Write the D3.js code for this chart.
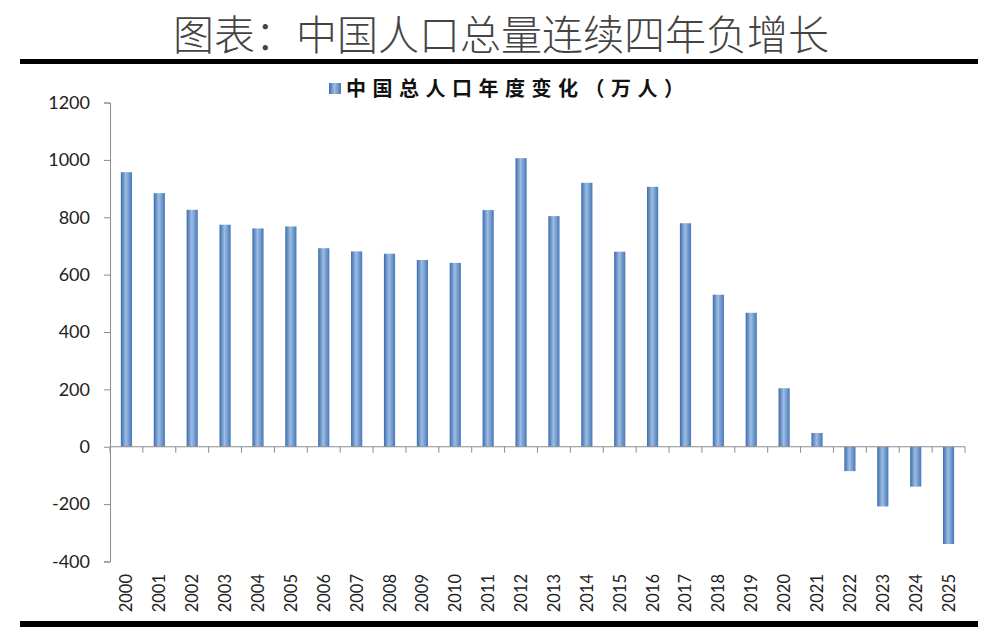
<html>
<head>
<meta charset="utf-8" />
<script src="https://cdn.jsdelivr.net/npm/d3@7/dist/d3.min.js"></script>
<style>
body { margin: 0; background: #fff; }
.axis text { font-family: Lato, "Open Sans", sans-serif; fill: #222; }
</style>
</head>
<body>
<svg id="chart" width="982" height="636"></svg>
<script>
var title = "图表：中国人口总量连续四年负增长";
var legendLabel = "中国总人口年度变化（万人）";
var years = ["2000","2001","2002","2003","2004","2005","2006","2007","2008","2009","2010","2011","2012",
             "2013","2014","2015","2016","2017","2018","2019","2020","2021","2022","2023","2024","2025"];
var changes = [957, 884, 826, 774, 761, 768, 692, 681, 673, 651, 641, 825, 1006,
               804, 920, 680, 906, 779, 530, 467, 204, 48, -85, -208, -139, -339];
var yTicks = [-400, -200, 0, 200, 400, 600, 800, 1000, 1200];

var svg = d3.select("#chart");

// bar gradient, Excel style
var grad = svg.append("defs").append("linearGradient")
    .attr("id", "barGrad")
    .attr("x1", "0%").attr("x2", "100%").attr("y1", "0%").attr("y2", "0%");
grad.append("stop").attr("offset", "0%").attr("stop-color", "#3b6bac");
grad.append("stop").attr("offset", "45%").attr("stop-color", "#9dbde3");
grad.append("stop").attr("offset", "100%").attr("stop-color", "#4878b8");

// title + rules
svg.append("text")
    .attr("x", 501).attr("y", 50)
    .attr("text-anchor", "middle")
    .style("font-family", "'Noto Sans CJK SC', sans-serif")
    .style("font-weight", 300)
    .style("font-size", "41px")
    .style("fill", "#444")
    .text(title);

svg.append("rect").attr("x", 20).attr("y", 59).attr("width", 958).attr("height", 5).attr("fill", "#000");
svg.append("rect").attr("x", 20).attr("y", 621).attr("width", 958).attr("height", 6).attr("fill", "#000");

// legend
svg.append("rect").attr("x", 329).attr("y", 83).attr("width", 12).attr("height", 11)
    .attr("fill", "url(#barGrad)");
svg.append("text")
    .attr("x", 346).attr("y", 96)
    .style("font-family", "'Noto Sans CJK SC', sans-serif")
    .style("font-weight", 700)
    .style("font-size", "20px")
    .style("letter-spacing", "6.5px")
    .style("fill", "#111")
    .text(legendLabel);

// scales
var x = d3.scaleBand().domain(years).range([110, 965]);
var y = d3.scaleLinear().domain([-400, 1200]).range([561.5, 102.5]);

// y axis
var yAxis = svg.append("g")
    .attr("class", "axis")
    .attr("transform", "translate(110,0)")
    .call(d3.axisLeft(y).tickValues(yTicks).tickFormat(function(d) { return String(d); })
        .tickSize(6).tickPadding(14));
yAxis.selectAll("path, line").attr("stroke", "#8c8c8c");
yAxis.selectAll("text").style("font-size", "18px");

// bars
var bw = x.bandwidth() * 0.34;
svg.append("g").selectAll("rect")
    .data(changes)
    .join("rect")
    .attr("x", function(d, i) { return x(years[i]) + (x.bandwidth() - bw) / 2; })
    .attr("y", function(d) { return y(Math.max(0, d)); })
    .attr("width", bw)
    .attr("height", function(d) { return Math.abs(y(d) - y(0)); })
    .attr("fill", "url(#barGrad)");

// x axis at zero with ticks on band boundaries
var xg = svg.append("g").attr("class", "axis");
xg.append("line")
    .attr("x1", 110).attr("x2", 965)
    .attr("y1", y(0)).attr("y2", y(0))
    .attr("stroke", "#8c8c8c");
xg.selectAll("line.tick")
    .data(years.concat(["end"]))
    .join("line")
    .attr("class", "tick")
    .attr("x1", function(d, i) { return 110 + i * x.step(); })
    .attr("x2", function(d, i) { return 110 + i * x.step(); })
    .attr("y1", y(0)).attr("y2", y(0) + 6)
    .attr("stroke", "#8c8c8c");

// year labels, rotated, at bottom
xg.selectAll("text")
    .data(years)
    .join("text")
    .attr("transform", function(d) {
        return "translate(" + (x(d) + x.bandwidth() / 2 + 6) + ",574) rotate(-90)";
    })
    .attr("text-anchor", "end")
    .style("font-size", "16.5px")
    .text(function(d) { return d; });
</script>
</body>
</html>
